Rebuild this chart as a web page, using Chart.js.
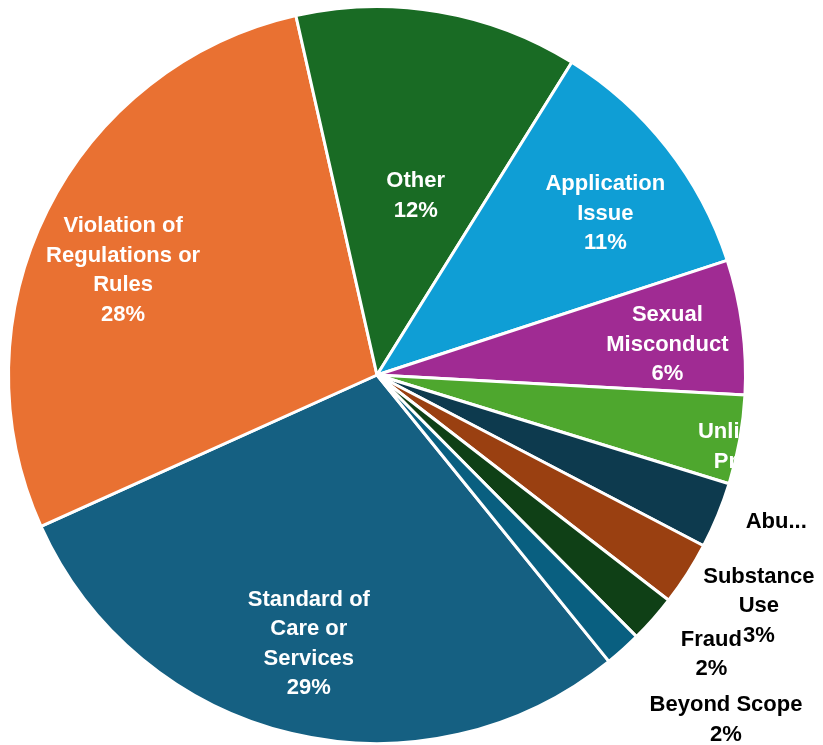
<!DOCTYPE html>
<html>
<head>
<meta charset="utf-8">
<title>Complaint categories</title>
<script src="https://cdn.jsdelivr.net/npm/chart.js@4.4.1/dist/chart.umd.min.js"></script>
<style>
  html,body{margin:0;padding:0;background:#fff;}
  #wrap{position:relative;width:823px;height:745px;}
</style>
</head>
<body>
<div id="wrap"><canvas id="pie"></canvas></div>
<script>
// Complaint categories, share of all complaints (%)
const categories=['Standard of Care or Services','Violation of Regulations or Rules','Other','Application Issue',
  'Sexual Misconduct','Unlicensed Practice','Abuse','Substance Use','Fraud','Beyond Scope'];
const shares=[29.1,28.2,12.4,11.1,5.9,3.9,2.9,2.8,2.1,1.6];

// wrapped label text as it is printed on the chart
const labelLines=[['Standard of','Care or','Services'],['Violation of','Regulations or','Rules'],['Other'],['Application','Issue'],
  ['Sexual','Misconduct'],['Unlicensed','Practice'],['Abu...'],['Substance','Use'],['Fraud'],['Beyond Scope']];
const showPct=[true,true,true,true,true,true,false,true,true,true];

const colors=['#156082','#E97132','#196B24','#0F9ED5','#A02B93','#4EA72E','#0D3A4E','#9A4011','#0F4016','#095F80'];
const textColors=['#fff','#fff','#fff','#fff','#fff','#fff','#000','#000','#000','#000'];
// where each label sits: fraction of the radius, and a nudge (deg) off the slice's middle
const spots=[[0.745,1],[0.748,-3.6],[0.505,2.4],[0.763,2.4],[0.793,1],[1.055,2.3],[1.152,-2.5],[1.207,-1.8],[1.177,-1.9],[1.326,-3.7]];

const FONT='bold 22px "Liberation Sans", Arial, sans-serif';
const LINE_H=29.5;
const TEXT_DY=3; // optical centring of the bold text

const sliceLabels={
  id:'sliceLabels',
  afterDatasetsDraw(chart){
    const ctx=chart.ctx;
    const meta=chart.getDatasetMeta(0);
    const total=shares.reduce((a,b)=>a+b,0);
    ctx.save();
    ctx.font=FONT;ctx.textAlign='center';ctx.textBaseline='middle';
    meta.data.forEach((arc,i)=>{
      const p=arc.getProps(['x','y','startAngle','endAngle','outerRadius'],true);
      const a=(p.startAngle+p.endAngle)/2+spots[i][1]*Math.PI/180;
      const r=p.outerRadius*spots[i][0];
      const cx=p.x+Math.cos(a)*r,cy=p.y+Math.sin(a)*r+TEXT_DY;
      const lines=labelLines[i].slice();
      if(showPct[i])lines.push(Math.round(shares[i]/total*100)+'%');
      const top=cy-(lines.length-1)*LINE_H/2;
      ctx.fillStyle=textColors[i];
      lines.forEach((t,k)=>ctx.fillText(t,cx,top+k*LINE_H));
    });
    ctx.restore();
  }
};

new Chart(document.getElementById('pie'),{
  type:'pie',
  data:{labels:categories,datasets:[{data:shares,backgroundColor:colors,borderColor:'#fff',borderWidth:3,hoverOffset:0}]},
  options:{
    responsive:true,maintainAspectRatio:false,animation:false,
    rotation:141,
    layout:{padding:{left:5,top:5,right:74,bottom:-4}},
    plugins:{legend:{display:false},tooltip:{enabled:false}}
  },
  plugins:[sliceLabels]
});
</script>
</body>
</html>
